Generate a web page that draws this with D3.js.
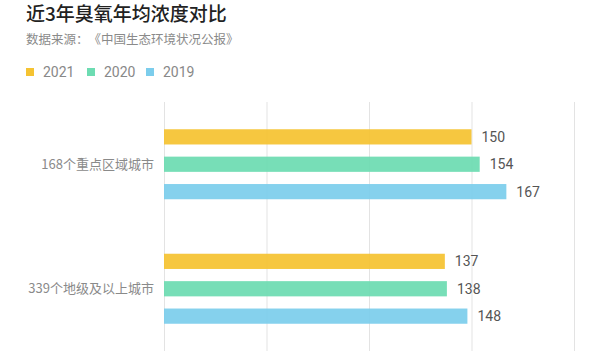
<!DOCTYPE html>
<html><head><meta charset="utf-8">
<script src="https://cdn.jsdelivr.net/npm/d3@7"></script>
<style>
html,body{margin:0;padding:0;background:#fff;}
svg{display:block;font-family:"Noto Sans CJK SC","Noto Sans",sans-serif;text-spacing-trim:space-all;}
</style></head>
<body><svg id="c" width="600" height="351"></svg>
<script>
const title = "近3年臭氧年均浓度对比";
const subtitle = "数据来源：《中国生态环境状况公报》";
const categories = ["168个重点区域城市", "339个地级及以上城市"];
const seriesNames = ["2021", "2020", "2019"];
const values2021 = [150, 137];
const values2020 = [154, 138];
const values2019 = [167, 148];
const xTicks = [0, 50, 100, 150, 200];
const colors = ["#f5c332", "#6ddcb2", "#7ccdec"];

const series = [values2021, values2020, values2019];
const svg = d3.select("#c");

svg.append("text").attr("x", 26).attr("y", 21).attr("font-size", 19).attr("font-weight", 500)
  .attr("fill", "#222").text(title);
svg.append("text").attr("x", 26).attr("y", 44).attr("font-size", 12.5).attr("fill", "#8a8a8a")
  .text(subtitle);

const legendX = [26, 87, 146];
seriesNames.forEach((n, i) => {
  const g = svg.append("g").attr("transform", `translate(${legendX[i]},0)`);
  g.append("rect").attr("x", 0).attr("y", 68).attr("width", 8).attr("height", 8).attr("fill", colors[i]);
  g.append("text").attr("x", 17).attr("y", 77).attr("font-size", 14).attr("fill", "#888")
    .attr("font-family", "Roboto, 'Noto Sans', sans-serif").text(n);
});

const x = d3.scaleLinear().domain([0, 200]).range([164, 574]);
const y0 = d3.scaleBand().domain(categories).range([102, 351]).padding(0);

// grid
svg.append("g").selectAll("line").data(xTicks).join("line")
  .attr("x1", d => x(d) + 0.5).attr("x2", d => x(d) + 0.5)
  .attr("y1", 102).attr("y2", 351).attr("stroke", "#e3e3e3").attr("stroke-width", 1);

const bandOff = (y0.bandwidth() - 70) / 2;
const yb = d3.scaleBand().domain(seriesNames).range([bandOff, bandOff + 70]).paddingInner(12 / 27).paddingOuter(0);

categories.forEach((c, ci) => {
  const g = svg.append("g").attr("transform", `translate(0,${y0(c)})`);
  seriesNames.forEach((s, si) => {
    const v = series[si][ci];
    g.append("rect").attr("x", x(0)).attr("y", yb(s)).attr("width", x(v) - x(0)).attr("height", yb.bandwidth())
      .attr("fill", colors[si]).attr("fill-opacity", 0.93);
    g.append("text").attr("x", x(v) + 10).attr("y", yb(s) + yb.bandwidth() / 2).attr("dy", "0.36em")
      .attr("font-size", 14).attr("fill", "#555").attr("font-family", "Roboto, 'Noto Sans', sans-serif").text(v);
  });
  g.append("text").attr("x", 154).attr("y", y0.bandwidth() / 2).attr("dy", "0.36em").attr("text-anchor", "end")
    .attr("font-size", 13).attr("fill", "#8a8a8a").text(c);
});
</script>
</body></html>
